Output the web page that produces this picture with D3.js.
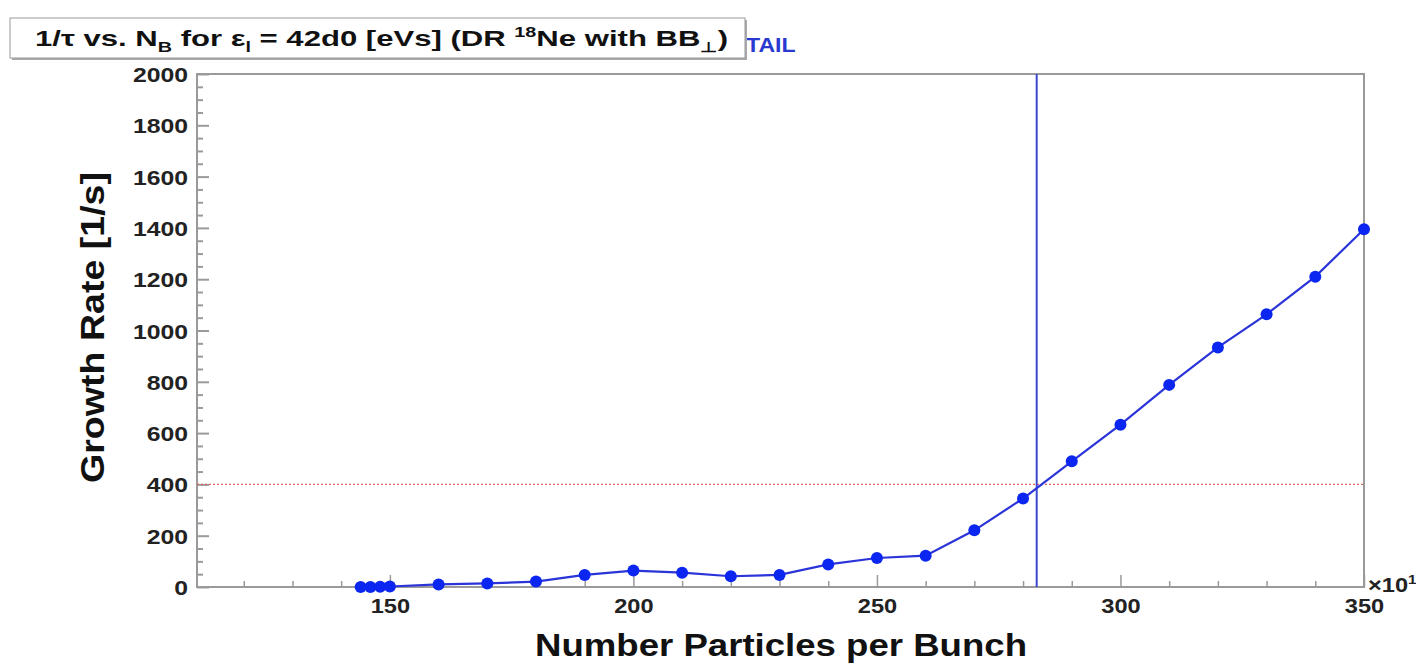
<!DOCTYPE html>
<html><head><meta charset="utf-8">
<script src="https://cdn.jsdelivr.net/npm/d3@7"></script>
<style>
body{margin:0;background:#fff;}
text{font-family:"Liberation Sans",Arial,Helvetica,sans-serif;font-weight:bold;}
</style></head>
<body><svg id="c" width="1416" height="665"></svg>
<script>
// ---- data ----
const particlesPerBunch = [144,146,148,150,160,170,180,190,200,210,220,230,240,250,260,270,280,290,300,310,320,330,340,350];
const growthRate        = [0,0,1,2,10,14,21,47,64,56,42,47,88,113,122,221,345,490,633,788,934,1063,1210,1395];
const xTickValues = [150,200,250,300,350];
const yTickValues = [0,200,400,600,800,1000,1200,1400,1600,1800,2000];
const xDomain = [110.4,350];
const yDomain = [0,2000];
const thresholdRate = 400;
const crossingNb = 282.8;
const titleParts = [
  {t:"1/τ vs. N"},{t:"B",sub:true},{t:" for ε"},{t:"l",sub:true},
  {t:" = 42d0 [eVs] (DR "},{t:"18",sup:true},{t:"Ne with BB"},{t:"⊥",sub:true},{t:")"}
];
const xLabel = "Number Particles per Bunch";
const yLabel = "Growth Rate [1/s]";

// ---- layout ----
const svg = d3.select("#c");
const L=197,R=1364,T=74,B=587;
const x = d3.scaleLinear().domain(xDomain).range([L,R]);
const y = d3.scaleLinear().domain(yDomain).range([B,T]);
const frameCol="#9a9a9a";
const SX = 1.18; // horizontal stretch of glyphs in the reference

// frame
svg.append("rect").attr("x",L).attr("y",T).attr("width",R-L).attr("height",B-T)
  .attr("fill","none").attr("stroke",frameCol).attr("stroke-width",2);

// y axis major/minor ticks
const yMajor = d3.axisLeft(y).tickValues(yTickValues).tickSizeInner(-12).tickSizeOuter(0).tickFormat(d3.format("d"));
const gy = svg.append("g").attr("transform",`translate(${L},0)`).call(yMajor);
gy.select(".domain").remove();
gy.selectAll(".tick line").attr("stroke",frameCol).attr("stroke-width",2);
gy.selectAll(".tick text").attr("x",0).attr("dy","0.36em")
  .attr("transform",`translate(-9,0) scale(${SX},1)`)
  .attr("font-size",21).attr("fill","#222").attr("font-family","Liberation Sans, Arial").attr("font-weight","bold");
const yMinor = d3.axisLeft(y).tickValues(d3.range(0,2001,50).filter(v=>v%200!==0)).tickSize(-6).tickFormat("");
const gy2 = svg.append("g").attr("transform",`translate(${L},0)`).call(yMinor);
gy2.select(".domain").remove();
gy2.selectAll(".tick line").attr("stroke",frameCol).attr("stroke-width",2);

// x axis
const xMajor = d3.axisBottom(x).tickValues(xTickValues).tickSizeInner(-12).tickSizeOuter(0).tickFormat(d3.format("d"));
const gx = svg.append("g").attr("transform",`translate(0,${B})`).call(xMajor);
gx.select(".domain").remove();
gx.selectAll(".tick line").attr("stroke",frameCol).attr("stroke-width",1.5);
gx.selectAll(".tick text").attr("y",0).attr("dy",0)
  .attr("transform",`translate(0,26) scale(${SX},1)`)
  .attr("font-size",20).attr("fill","#222").attr("font-family","Liberation Sans, Arial").attr("font-weight","bold");
const xMinor = d3.axisBottom(x).tickValues(d3.range(120,351,10).filter(v=>v%50!==0)).tickSize(-6).tickFormat("");
const gx2 = svg.append("g").attr("transform",`translate(0,${B})`).call(xMinor);
gx2.select(".domain").remove();
gx2.selectAll(".tick line").attr("stroke",frameCol).attr("stroke-width",1.5);

// ×10 exponent
svg.append("text").attr("transform",`translate(${R+4},${B+5}) scale(${SX},1)`).attr("font-size",20).attr("fill","#222")
  .html('×10<tspan dy="-8" font-size="13">1</tspan>');

// threshold line
svg.append("line").attr("x1",L).attr("x2",R).attr("y1",y(thresholdRate)).attr("y2",y(thresholdRate))
  .attr("stroke","#e06060").attr("stroke-width",1.2).attr("stroke-dasharray","2,2");
// vertical crossing
svg.append("line").attr("x1",x(crossingNb)).attr("x2",x(crossingNb)).attr("y1",T).attr("y2",B)
  .attr("stroke","#3a48d0").attr("stroke-width",2);

// series
const pts = particlesPerBunch.map((v,i)=>[v,growthRate[i]]);
svg.append("path").datum(pts)
  .attr("d",d3.line().x(d=>x(d[0])).y(d=>y(d[1])))
  .attr("fill","none").attr("stroke","#2a34d8").attr("stroke-width",2.2);
svg.selectAll("circle.pt").data(pts).join("circle").attr("class","pt")
  .attr("cx",d=>x(d[0])).attr("cy",d=>y(d[1])).attr("r",6).attr("fill","#0a26f0");

// axis titles
svg.append("text").attr("x",781).attr("y",656).attr("text-anchor","middle")
  .attr("font-size",32).attr("fill","#111").attr("textLength",492).attr("lengthAdjust","spacingAndGlyphs").text(xLabel);
svg.append("text").attr("transform",`translate(104,327.5) rotate(-90)`).attr("text-anchor","middle")
  .attr("font-size",34).attr("fill","#111").attr("textLength",311).attr("lengthAdjust","spacingAndGlyphs").text(yLabel);

// partially hidden blue text
svg.append("text").attr("transform",`translate(746,52) scale(1.1,1)`).attr("font-size",21).attr("fill","#2a3ad0").text("TAIL");

// title box
svg.append("rect").attr("x",12).attr("y",20).attr("width",735).attr("height",40).attr("fill","#aaa");
svg.append("rect").attr("x",10).attr("y",18).attr("width",735).attr("height",40).attr("fill","#fff").attr("stroke","#999").attr("stroke-width",1);
const tg = svg.append("g");
const tt = tg.append("text").attr("x",0).attr("y",0).attr("font-size",22).attr("fill","#111");
let off = 0;
titleParts.forEach(p=>{
  const target = p.sub ? 6 : (p.sup ? -9 : 0);
  const s = tt.append("tspan").attr("dy", target-off).text(p.t);
  off = target;
  if(p.sub||p.sup) s.attr("font-size",14);
});
const tw = tt.node().getComputedTextLength();
tg.attr("transform",`translate(35,46) scale(${693/tw},1)`);
</script></body></html>
